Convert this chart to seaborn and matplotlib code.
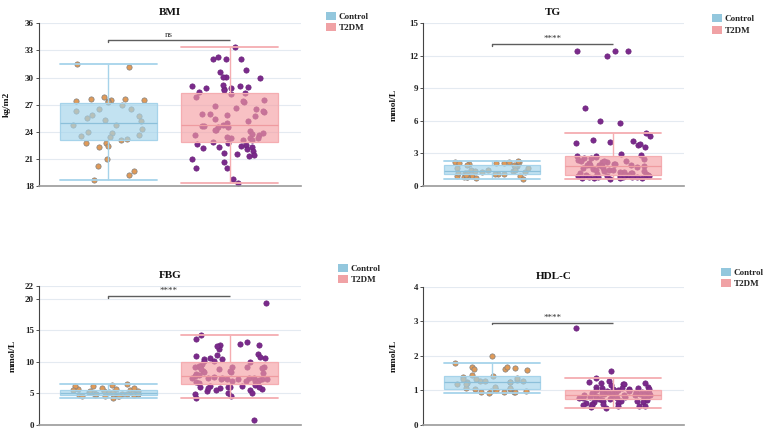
import numpy as np
import pandas as pd
import matplotlib
matplotlib.use("Agg")
import matplotlib.pyplot as plt
import seaborn as sns
from matplotlib.patches import Patch

# ---------------- data ----------------
groups = ["Control", "T2DM"]

bmi_control = [31.5, 31.2, 27.8, 27.6, 27.5, 27.5, 27.4, 27.4, 27.6, 27.25, 26.95, 26.5, 26.5,
               26.25, 25.9, 25.7, 25.55, 25.25, 25.2, 24.8, 24.75, 24.3, 24.0, 23.85, 23.6, 23.5,
               23.45, 23.15, 23.1, 22.8, 22.75, 22.45, 22.35, 21.0, 20.2, 19.65, 19.2, 18.7]
bmi_t2dm = [33.4, 32.1, 32.1, 32.3, 32.1, 30.65, 30.1, 30.8, 30.1, 29.9, 28.8, 29.0, 28.7, 28.6,
            29.1, 28.8, 29.2, 29.1, 28.4, 28.3, 28.2, 27.3, 27.5, 27.4, 27.9, 26.8, 26.6, 26.0,
            26.15, 26.3, 26.5, 25.85, 25.7, 26.0, 25.45, 25.0, 25.2, 24.55, 24.6, 24.55, 24.2,
            24.2, 24.6, 24.8, 24.75, 24.1, 23.7, 23.35, 23.45, 23.3, 23.6, 23.05, 23.1, 23.9,
            23.6, 23.3, 22.85, 22.8, 22.3, 22.5, 22.25, 22.4, 22.6, 22.3, 21.9, 21.6, 21.5, 22.1,
            21.4, 21.3, 21.0, 20.7, 20.0, 20.0, 18.8, 18.35]

tg_control = [1.87, 1.29, 0.86, 0.95, 2.12, 1.17, 1.45, 1.14, 0.80, 1.38, 2.18, 1.63, 1.10, 1.97,
              1.69, 1.41, 1.23, 0.92, 0.68, 2.03, 1.50, 2.21, 2.27, 0.86, 1.10, 1.78, 2.09, 1.96,
              0.92, 0.70, 1.47, 1.17, 2.18, 1.32, 2.15, 1.05]
tg_t2dm = [12.45, 12.45, 12.45, 12.0, 7.15, 5.95, 5.8, 4.9, 4.6, 4.25, 3.95, 3.8, 3.55, 4.1, 4.15,
           3.85, 2.95, 2.9, 2.75, 2.8,
           2.68, 2.62, 2.45, 2.4, 2.33, 2.28, 2.2, 2.18, 2.12, 2.06, 2.02, 1.98, 1.96, 1.92, 1.9,
           1.88, 2.3, 2.55,
           1.82, 1.78, 1.7, 1.66, 1.58, 1.52, 1.5, 1.44, 1.4, 1.35, 1.3, 1.28, 1.24, 1.2, 1.18,
           1.14, 1.12, 1.08, 1.06,
           1.03, 1.01, 0.99, 0.98, 0.96, 0.93, 0.92, 0.9, 0.89, 0.87, 0.85, 0.84, 0.81, 0.8,
           0.78, 0.76, 0.72, 0.7, 0.66]

fbg_control = [5.3, 4.67, 4.93, 5.09, 4.67, 5.2, 5.51, 4.56, 5.04, 4.56, 6.15, 5.2, 4.5, 5.3,
               4.67, 5.78, 4.82, 5.83, 5.73, 4.61, 5.04, 6.47, 6.26, 4.56, 5.35, 6.15, 5.2, 4.72,
               5.51, 4.93, 4.24, 4.82, 5.6, 4.9]
fbg_t2dm = [19.4, 14.3, 13.6, 13.1, 12.6, 12.1, 11.3, 12.5, 12.7, 12.8, 11.1, 11.0, 10.65, 10.6,
            10.5, 10.5, 10.2, 10.75, 10.1, 9.9,
            9.6, 9.2, 9.1, 9.2, 9.0, 8.8, 9.1, 8.4, 9.3, 9.2, 8.6, 8.3, 8.0, 7.8, 8.2, 7.9, 8.6, 8.9,
            7.5, 7.4, 7.3, 7.2, 7.4, 7.3, 6.8, 7.3, 6.9, 7.1, 7.4, 7.2, 7.5, 6.9, 6.6, 6.7, 7.0,
            6.55, 7.6,
            6.04, 6.0, 6.26, 6.15, 6.1, 5.83, 5.57, 5.3, 5.04, 6.0, 5.8, 5.6, 5.46, 6.0, 4.56,
            4.93, 5.09, 4.24, 0.75]

hdl_control = [1.79, 1.61, 1.24, 1.27, 0.97, 0.97, 0.94, 1.24, 1.39, 1.30, 1.27, 1.07, 1.00, 1.34,
               1.24, 1.18, 1.41, 0.94, 1.05, 1.34, 1.36, 1.69, 1.65, 2.00, 1.22, 1.07, 0.95, 1.69,
               1.58, 1.63, 1.45, 1.18, 1.09, 1.26, 0.95, 0.92, 1.05]
hdl_t2dm = [2.82, 1.55, 1.36, 1.28, 1.2, 1.25, 1.18, 1.18, 1.1, 1.16, 1.1, 1.22, 1.05, 1.08, 1.06,
            1.04, 1.07, 1.03,
            1.01, 0.99, 0.97, 1.0, 0.93, 0.96, 0.91, 0.95, 0.88, 0.94, 0.9, 0.98, 0.89, 0.92, 0.87,
            0.96, 0.9, 0.93, 0.88, 1.02,
            0.86, 0.84, 0.85, 0.82, 0.8, 0.83, 0.78, 0.81, 0.77, 0.85, 0.79, 0.76, 0.82, 0.84, 0.8,
            0.78, 0.86, 0.77, 0.75,
            0.74, 0.72, 0.7, 0.73, 0.68, 0.65, 0.7, 0.62, 0.66, 0.61, 0.6, 0.63, 0.58, 0.55, 0.54,
            0.53, 0.57, 0.5, 0.48]

titles = ["BMI", "TG", "FBG", "HDL-C"]
ylabels = ["kg/m2", "mmol/L", "mmol/L", "mmol/L"]
yticks = [[18, 21, 24, 27, 30, 33, 36], [0, 3, 6, 9, 12, 15], [0, 5, 10, 15, 20, 22], [0, 1, 2, 3, 4]]
ylims = [(18, 36), (0, 15), (0, 22), (0, 4)]
sig_labels = ["ns", "****", "****", "****"]
bracket_y = [34.15, 13.06, 20.4, 2.96]
panel_data = [(bmi_control, bmi_t2dm), (tg_control, tg_t2dm),
              (fbg_control, fbg_t2dm), (hdl_control, hdl_t2dm)]

# ---------------- style ----------------
sns.set_theme(style="white")
plt.rcParams["font.family"] = ["Liberation Serif", "DejaVu Serif"]
plt.rcParams["font.weight"] = "bold"

box_face = {"Control": (0.64, 0.83, 0.92, 0.66), "T2DM": (0.96, 0.62, 0.64, 0.64)}
box_line = {"Control": "#a6d3ea", "T2DM": "#f5adb1"}
median_line = {"Control": "#8cc0da", "T2DM": "#ef9ba0"}
pt_color = {"Control": "#e09a58", "T2DM": "#7b2a8c"}
pt_edge = {"Control": "#808080", "T2DM": "#6a2279"}
legend_color = {"Control": "#93c7dd", "T2DM": "#f0a2a5"}

fig = plt.figure(figsize=(7.67, 4.32), dpi=100)
W, H = 767.0, 432.0
rects = [
    (38.7, 23.3, 301.0, 186.0),
    (422.7, 23.3, 684.0, 186.0),
    (38.7, 286.3, 301.0, 424.7),
    (422.7, 287.0, 684.0, 424.7),
]
legend_anchor = [(325.5, 11.5), (711.5, 14.0), (337.5, 263.5), (720.5, 267.5)]
label_x = [-0.105, -0.097, -0.083, -0.097]

np.random.seed(7)
for i in range(4):
    x0, y0, x1, y1 = rects[i]
    ax = fig.add_axes([x0 / W, 1 - y1 / H, (x1 - x0) / W, (y1 - y0) / H])
    ctrl, t2 = panel_data[i]
    df = pd.DataFrame({
        "group": ["Control"] * len(ctrl) + ["T2DM"] * len(t2),
        "value": list(ctrl) + list(t2),
    })
    for g in groups:
        sub = df[df["group"] == g]
        sns.stripplot(data=sub, x="group", y="value", order=groups, color=pt_color[g],
                      jitter=0.31, size=3.8, linewidth=0.5, edgecolor=pt_edge[g],
                      ax=ax, zorder=2)
    for g in groups:
        sub = df[df["group"] == g]
        sns.boxplot(data=sub, x="group", y="value", order=groups, width=0.8,
                    showfliers=False, whis=1.5, ax=ax, linewidth=1.0,
                    capwidths=0.8,
                    boxprops=dict(facecolor=box_face[g], edgecolor=box_line[g], zorder=3,
                                  linewidth=0.9),
                    whiskerprops=dict(color=box_line[g], linewidth=1.0, zorder=3),
                    capprops=dict(color=box_line[g], linewidth=1.3, zorder=3),
                    medianprops=dict(color=median_line[g], linewidth=0.9, zorder=4))

    ax.set_xlim(-0.575, 1.59)
    ax.set_ylim(*ylims[i])
    ax.set_yticks(yticks[i])
    ax.set_yticklabels([str(t) for t in yticks[i]], fontsize=6.5, fontweight="bold",
                       color="#222222")
    ax.set_xticks([])
    ax.set_xlabel("")
    ax.set_ylabel(ylabels[i], fontsize=6.8, fontweight="bold", color="#111111")
    ax.yaxis.set_label_coords(label_x[i], 0.5)
    ax.tick_params(axis="y", length=2.5, width=0.6, color="#333333", pad=1.0, left=True)
    ax.grid(axis="y", color="#e4eaf1", linewidth=0.8)
    ax.set_axisbelow(True)
    for s in ["top", "right"]:
        ax.spines[s].set_visible(False)
    ax.spines["left"].set_color("#444444")
    ax.spines["left"].set_linewidth(0.8)
    ax.spines["bottom"].set_color("#9a9a9a")
    ax.spines["bottom"].set_linewidth(1.2)
    ax.set_title(titles[i], fontsize=8, fontweight="bold", pad=6, color="#111111")

    # significance bracket
    yb = bracket_y[i]
    span = ylims[i][1] - ylims[i][0]
    ax.plot([0, 1], [yb, yb], color="#5e5e5e", lw=1.0, zorder=5, solid_capstyle="butt")
    ax.plot([0, 0], [yb, yb - span * 0.012], color="#5e5e5e", lw=1.0, zorder=5)
    ax.text(0.5, yb + span * 0.008, sig_labels[i], ha="center", va="bottom",
            fontsize=6.5, fontweight="normal", color="#333333")

    handles = [Patch(facecolor=legend_color[g], edgecolor="none") for g in groups]
    lx, ly = legend_anchor[i]
    fig.legend(handles, groups, loc="upper left", bbox_to_anchor=(lx / W, 1 - ly / H),
               frameon=False, handlelength=1.15, handleheight=1.0, handletextpad=0.3,
               labelspacing=0.3, borderpad=0, borderaxespad=0,
               prop=dict(family="Liberation Serif", weight="bold", size=6.5))

fig.savefig("out.png", dpi=100)
